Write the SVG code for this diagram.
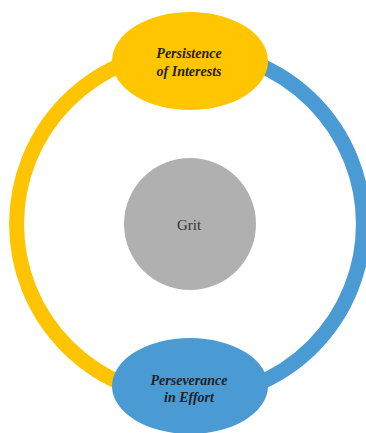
<svg xmlns="http://www.w3.org/2000/svg" width="366" height="433" viewBox="0 0 366 433">
<style>
.lbl{font-family:"Liberation Serif","DejaVu Serif",serif;font-size:14px;font-weight:bold;font-style:italic;fill:#222222;text-anchor:middle}
.grit{font-family:"Liberation Serif","DejaVu Serif",serif;font-size:15px;fill:#333333;text-anchor:middle}
.ring{fill:none;stroke-width:15}
</style>
<rect width="366" height="433" fill="#ffffff"/>
<g id="connectors">
<path class="ring" stroke="#FFC400" d="M190,50.5 A173.5,173.5 0 0 0 190,397.5"/>
<path class="ring" stroke="#4A9AD4" d="M190,50.5 A173.5,173.5 0 0 1 190,397.5"/>
</g>
<g id="grit">
<circle cx="190" cy="224" r="66" fill="#B0B0B0"/>
<text class="grit" x="189" y="230">Grit</text>
</g>
<g id="persistence">
<ellipse cx="190" cy="61" rx="78" ry="49" fill="#FFC600"/>
<text class="lbl" x="189" y="58">Persistence</text>
<text class="lbl" x="189" y="76">of Interests</text>
</g>
<g id="perseverance">
<ellipse cx="190" cy="386" rx="78" ry="48" fill="#4A9AD4"/>
<text class="lbl" x="189" y="385">Perseverance</text>
<text class="lbl" x="189" y="402">in Effort</text>
</g>
</svg>
